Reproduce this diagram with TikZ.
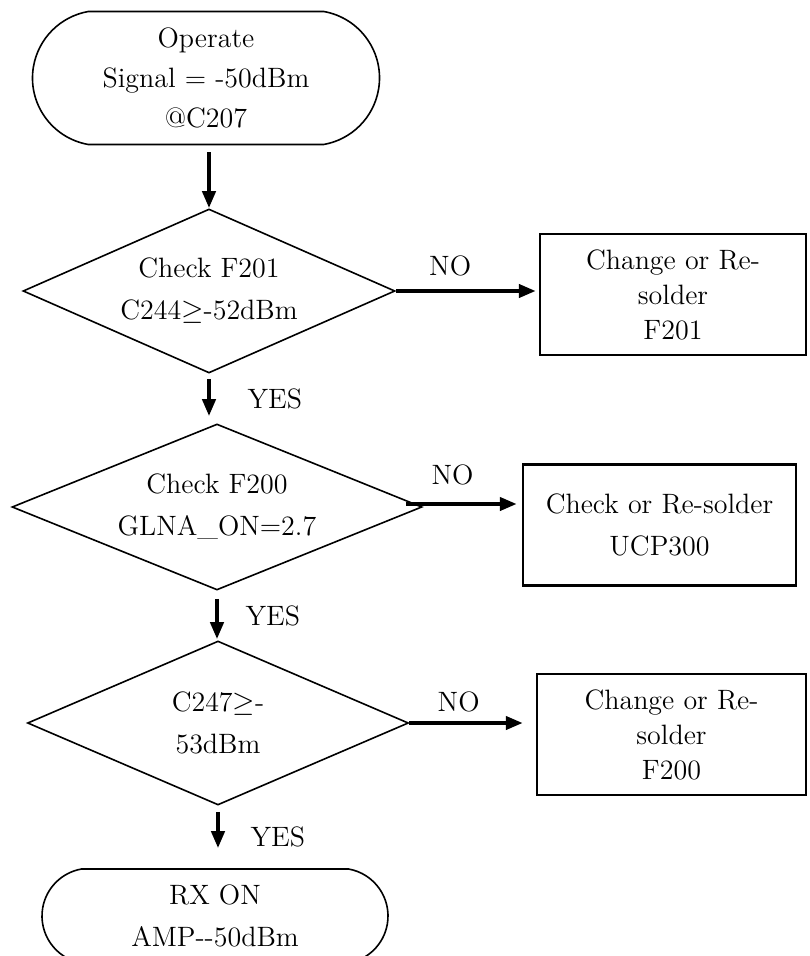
\documentclass[tikz,border=0pt]{standalone}
\usepackage{tikz}
\usetikzlibrary{arrows.meta,positioning,shapes.geometric,shapes.misc}
\definecolor{ink}{HTML}{000000}
\tikzset{
  flowtext/.style={text=ink, align=center, font=\fontsize{14}{21}\selectfont},
  termnode/.style={
    rounded rectangle, rounded rectangle arc length=160,
    draw=ink, line width=0.8pt, flowtext, inner sep=0pt
  },
  decnode/.style={
    diamond, aspect=2.3, draw=ink, line width=0.8pt,
    flowtext, inner sep=0pt
  },
  fixnode/.style={
    rectangle, draw=ink, line width=1.2pt,
    flowtext, inner sep=0pt, minimum height=60.5pt
  },
  flowarrow/.style={
    -{Triangle[length=8.5pt, width=6.5pt]}, line width=2pt, draw=ink
  },
  flowlabel/.style={flowtext}
}

\begin{document}
\begin{tikzpicture}[x=0.5pt, y=-0.5pt]
    \clip (0,0) rectangle (809,956);
    \node[termnode, minimum width=173.5pt, minimum height=66.5pt,
          font=\fontsize{14}{20}\selectfont] (op) at (206,78)
          {Operate\\Signal = -50dBm\\@C207};
    \node[decnode, minimum width=186pt, minimum height=82pt] (chk1) at (209,291)
          {Check F201\\C244$\geq$-52dBm};
    \node[decnode, minimum width=205pt, minimum height=83pt] (chk2) at (217,507)
          {Check F200\\GLNA\_ON=2.7};
    \node[decnode, minimum width=190.5pt, minimum height=82pt] (chk3) at (218,723)
          {C247$\geq$-\\53dBm};
    \node[termnode, minimum width=173pt, minimum height=47pt] (rx) at (215,916)
          {RX ON\\AMP{-}{-}50dBm};

    \node[fixnode, minimum width=133pt, font=\fontsize{14}{17.5}\selectfont] (fix1) at (673,294.5)
          {Change or Re-\\solder\\F201};
    \node[fixnode, minimum width=136.5pt] (fix2) at (659.5,525)
          {Check or Re-solder\\UCP300};
    \node[fixnode, minimum width=134.5pt, font=\fontsize{14}{17.5}\selectfont] (fix3) at (671.5,734.5)
          {Change or Re-\\solder\\F200};

    % main line
    \draw[flowarrow, shorten <=3.5pt] (chk1.north |- op.south) -- (chk1.north);
    \draw[flowarrow, shorten <=2.5pt, shorten >=3.5pt] (chk1.south) -- (chk1.south |- chk2.north)
          node[midway, right=15pt, flowlabel]{YES};
    \draw[flowarrow, shorten <=4pt, shorten >=0.5pt] (chk2.south) -- (chk2.south |- chk3.north)
          node[midway, right=10pt, flowlabel]{YES};
    \draw[flowarrow, shorten <=3pt, shorten >=10pt] (chk3.south) -- (chk3.south |- rx.north)
          node[midway, right=12pt, flowlabel]{YES};

    % NO branches
    \draw[flowarrow, shorten >=1.5pt] (chk1.east) -- (chk1.east -| fix1.west)
          node[pos=0.38, above=3pt, flowlabel]{NO};
    \draw[flowarrow, shorten <=-8.5pt, shorten >=2.5pt] ([yshift=1.5pt]chk2.east) -- ([yshift=1.5pt]chk2.east -| fix2.west)
          node[pos=0.3, above=5pt, flowlabel]{NO};
    \draw[flowarrow, shorten >=6.5pt] (chk3.east) -- (chk3.east -| fix3.west)
          node[pos=0.39, above=1pt, flowlabel]{NO};
\end{tikzpicture}
\end{document}
